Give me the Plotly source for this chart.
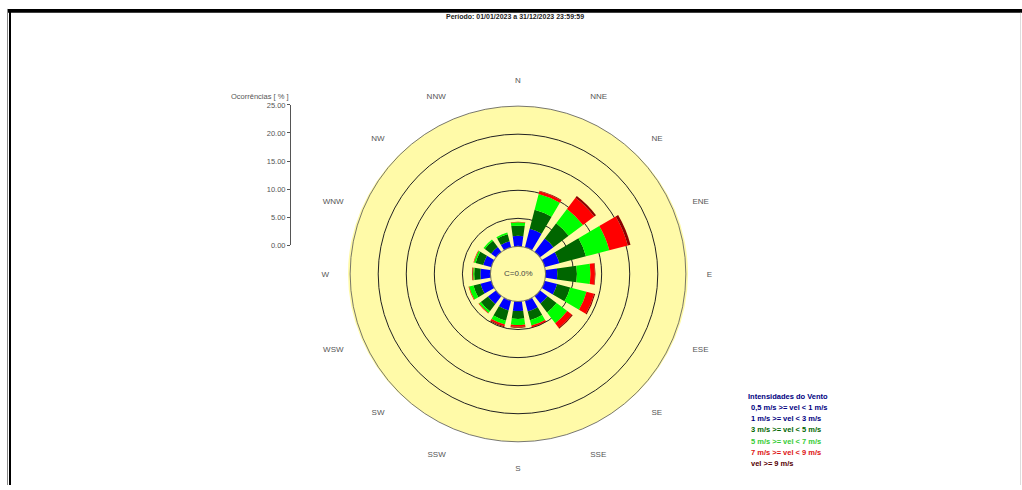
import plotly.graph_objects as go

# ---------------- data ----------------
directions = ["N", "NNE", "NE", "ENE", "E", "ESE", "SE", "SSE",
              "S", "SSW", "SW", "WSW", "W", "WNW", "NW", "NNW"]
dir_angles = [0, 22.5, 45, 67.5, 90, 112.5, 135, 157.5,
              180, 202.5, 225, 247.5, 270, 292.5, 315, 337.5]

class_labels = ["0,5 m/s >= vel < 1 m/s", "1 m/s >= vel < 3 m/s",
                "3 m/s >= vel < 5 m/s", "5 m/s >= vel < 7 m/s",
                "7 m/s >= vel < 9 m/s", "vel >= 9 m/s"]

# frequencies (%) per direction for each speed class
v_05_1 = [0.1, 0.1, 0.1, 0.1, 0.1, 0.1, 0.1, 0.1, 0.1, 0.1, 0.1, 0.1, 0.1, 0.1, 0.1, 0.1]
v_1_3 = [1.8, 3.3, 2.9, 2.6, 2.0, 2.2, 1.6, 1.9, 1.6, 1.7, 1.7, 1.9, 1.7, 1.4, 1.0, 1.0]
v_3_5 = [1.8, 3.5, 3.4, 4.9, 3.5, 2.4, 2.0, 1.6, 1.4, 1.9, 1.6, 1.3, 1.1, 1.4, 1.4, 1.3]
v_5_7 = [0.6, 2.9, 3.2, 4.3, 2.4, 3.0, 2.4, 1.0, 1.1, 0.7, 0.4, 0.8, 0.2, 0.3, 0.3, 0.3]
v_7_9 = [0.1, 0.5, 2.5, 3.4, 0.8, 1.4, 1.0, 0.3, 0.3, 0.3, 0.1, 0.1, 0.1, 0.1, 0.0, 0.0]
v_9_up = [0.0, 0.1, 0.4, 0.5, 0.1, 0.2, 0.2, 0.1, 0.2, 0.2, 0.0, 0.0, 0.1, 0.0, 0.0, 0.0]

series = [v_05_1, v_1_3, v_3_5, v_5_7, v_7_9, v_9_up]
bar_colors = ["#000080", "#0000FF", "#006600", "#00FF00", "#FF0000", "#8B0000"]
text_colors = ["#000080", "#000080", "#006600", "#33CC33", "#DD1111", "#550000"]

scale_ticks = [0, 5, 10, 15, 20, 25]
calm_text = "C=0.0%"
title_text = "Período: 01/01/2023 a 31/12/2023 23:59:59"
scale_title = "Ocorrências [ % ]"
legend_title = "Intensidades do Vento"

# ---------------- figure ----------------
W, H = 1022, 490
cx, cy, R = 518, 275, 171
yellow = "#FFFAA8"

fig = go.Figure()
for vals, col, lab in zip(series, bar_colors, class_labels):
    fig.add_trace(go.Barpolar(
        r=vals, theta=dir_angles, width=16, name=lab,
        marker=dict(color=col, line=dict(width=0)),
        showlegend=False, hoverinfo="skip"))

# invisible trace to create the vertical % scale
fig.add_trace(go.Scatter(x=[0.5], y=[0], mode="markers",
                         marker=dict(opacity=0), showlegend=False,
                         hoverinfo="skip", xaxis="x", yaxis="y"))

px = lambda x: x / W
py = lambda y: 1 - y / H

fig.update_layout(
    width=W, height=H,
    margin=dict(l=0, r=0, t=0, b=0),
    paper_bgcolor="white", plot_bgcolor="white",
    polar=dict(
        domain=dict(x=[px(cx - R), px(cx + R)], y=[py(cy + R), py(cy - R)]),
        hole=0.164,
        bgcolor=yellow,
        barmode="stack",
        radialaxis=dict(range=[0, 25], tickvals=[5, 10, 15, 20],
                        showticklabels=False, ticks="", showline=False,
                        gridcolor="#222222", gridwidth=0.8),
        angularaxis=dict(rotation=90, direction="clockwise",
                         tickmode="array", tickvals=dir_angles, ticktext=directions,
                         showgrid=False, showline=True, linecolor="#555555",
                         linewidth=0.8, ticks="outside", ticklen=19,
                         tickcolor="rgba(0,0,0,0)",
                         tickfont=dict(size=8, color="#555555", family="Arial")),
    ),
    xaxis=dict(domain=[px(291), px(292)], range=[0, 1], visible=False, fixedrange=True),
    yaxis=dict(domain=[py(245.7), py(102.8)], range=[0, 25], anchor="x",
               tickmode="array", tickvals=scale_ticks, tickformat=".2f",
               showline=True, linecolor="#555555", linewidth=1,
               ticks="outside", ticklen=3, tickcolor="#555555",
               showgrid=False, zeroline=False, fixedrange=True,
               tickfont=dict(size=7.5, color="#555555", family="Arial")),
    font=dict(family="Arial", size=8, color="#333333"),
)

shapes = [
    # yellow disk behind the rose (fills the calm hole too)
    dict(type="circle", xref="paper", yref="paper", layer="below",
         x0=px(cx - R + 1), x1=px(cx + R - 1), y0=py(cy + R - 1), y1=py(cy - R + 1),
         fillcolor=yellow, line=dict(width=0)),
    # page frame
    dict(type="rect", xref="paper", yref="paper", x0=px(7), x1=1, y0=py(9), y1=py(5),
         fillcolor="black", line=dict(width=0)),
    dict(type="rect", xref="paper", yref="paper", x0=px(9), x1=px(11), y0=0, y1=py(5),
         fillcolor="black", line=dict(width=0)),
    dict(type="line", xref="paper", yref="paper", x0=px(7.5), x1=px(7.5), y0=0, y1=py(5),
         line=dict(color="#888888", width=1)),
    dict(type="line", xref="paper", yref="paper", x0=px(1020.5), x1=px(1020.5), y0=0, y1=py(9),
         line=dict(color="#dddddd", width=1)),
]

annotations = [
    dict(text="<b>" + title_text + "</b>", x=px(515), y=py(13), xref="paper", yref="paper",
         showarrow=False, xanchor="center", yanchor="middle",
         font=dict(size=7, color="#222222", family="Arial")),
    dict(text=calm_text, x=px(cx), y=py(cy), xref="paper", yref="paper",
         showarrow=False, xanchor="center", yanchor="middle",
         font=dict(size=8, color="#444444", family="Arial")),
    dict(text=scale_title, x=px(291), y=py(94), xref="paper", yref="paper",
         showarrow=False, xanchor="right", yanchor="middle",
         font=dict(size=7.5, color="#555555", family="Arial")),
    dict(text="<b>" + legend_title + "</b>", x=px(746), y=py(399.5), xref="paper", yref="paper",
         showarrow=False, xanchor="left", yanchor="middle",
         font=dict(size=7.5, color="#000080", family="Arial")),
]
for i, (lab, col) in enumerate(zip(class_labels, text_colors)):
    annotations.append(dict(
        text="<b>" + lab + "</b>", x=px(749), y=py(411 + i * 11.4),
        xref="paper", yref="paper", showarrow=False,
        xanchor="left", yanchor="middle",
        font=dict(size=7.5, color=col, family="Arial")))

fig.update_layout(shapes=shapes, annotations=annotations)
fig.write_html("out.html", config={"displayModeBar": False},
               post_script="document.body.style.margin='0';document.body.style.overflow='hidden';")
